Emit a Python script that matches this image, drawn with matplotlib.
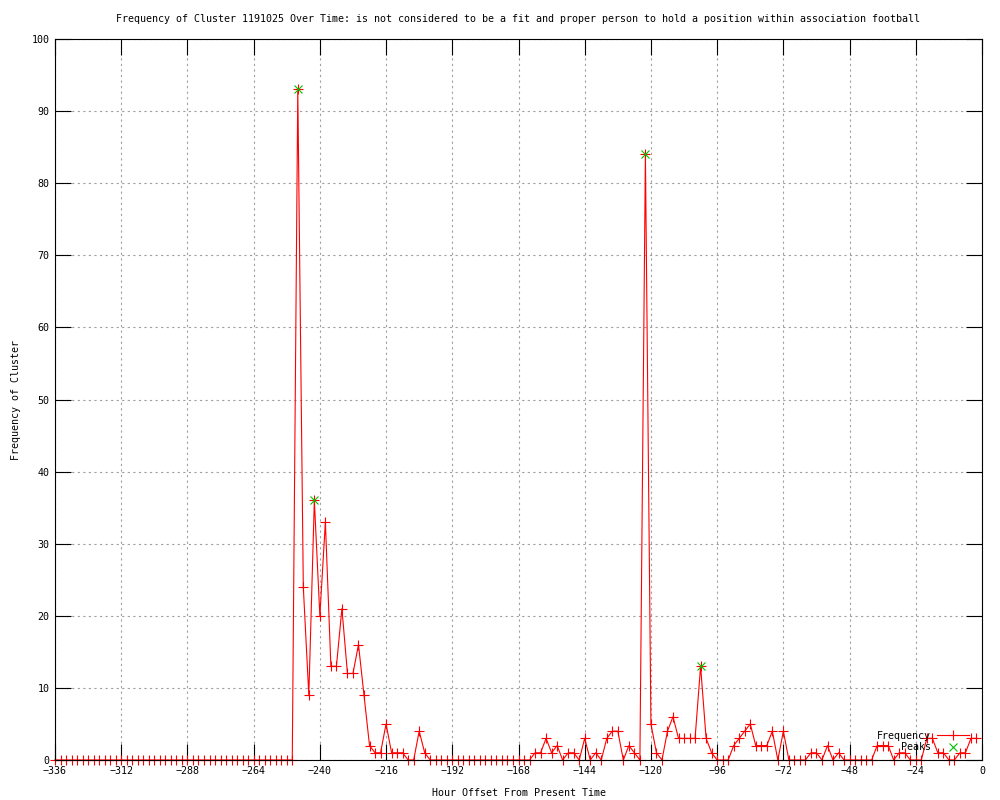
#!/usr/bin/env python3
"""
Frequency of a cluster over time, drawn in the old gnuplot png look.
"""

import numpy as np
import matplotlib
matplotlib.use("Agg")
import matplotlib.pyplot as plt

# Hours before now, one sample every 2 hours
hours = np.arange(-336, 0, 2)

# Cluster frequency per sample (-336 ... -2)
frequency = [
    0, 0, 0, 0, 0, 0, 0, 0, 0, 0, 0, 0,      # -336 .. -314
    0, 0, 0, 0, 0, 0, 0, 0, 0, 0, 0, 0,      # -312 .. -290
    0, 0, 0, 0, 0, 0, 0, 0, 0, 0, 0, 0,      # -288 .. -266
    0, 0, 0, 0, 0, 0, 0, 0,                  # -264 .. -250
    93, 24, 9, 36, 20, 33, 13, 13, 21, 12,   # -248 .. -230
    12, 16, 9, 2, 1, 1, 5, 1, 1, 1,          # -228 .. -210
    0, 0, 4, 1,                              # -208 .. -202
    0, 0, 0, 0, 0, 0, 0, 0, 0, 0,            # -200 .. -182
    0, 0, 0, 0, 0, 0, 0, 0, 0,               # -180 .. -164
    1, 1, 3, 1, 2, 0, 1, 1, 0, 3,            # -162 .. -144
    0, 1, 0, 3, 4, 4, 0, 2, 1, 0,            # -142 .. -124
    84, 5, 1, 0, 4, 6, 3, 3, 3, 3,           # -122 .. -104
    13, 3, 1, 0, 0, 0, 2, 3, 4, 5,           # -102 .. -84
    2, 2, 2, 4, 0, 4, 0, 0, 0, 0,            # -82 .. -64
    1, 1, 0, 2, 0, 1, 0, 0, 0, 0,            # -62 .. -44
    0, 0, 2, 2, 2, 0, 1, 1, 0, 0,            # -42 .. -24
    0, 3, 3, 1, 1, 0, 0, 1, 1, 3,            # -22 .. -4
    3,                                       # -2
]

peak_hours = [-248, -242, -122, -102]
peak_values = [93, 36, 84, 13]

title = ("Frequency of Cluster 1191025 Over Time: is not considered to be a fit "
         "and proper person to hold a position within association football")
x_ticks = np.arange(-336, 1, 24)
y_ticks = np.arange(0, 101, 10)

plt.rcParams["font.family"] = ["DejaVu Sans Mono"]
plt.rcParams["font.size"] = 7.2

fig = plt.figure(figsize=(10, 8), dpi=100)
ax = fig.add_axes([0.055, 0.05, 0.927, 0.90125])

ax.plot(hours, frequency, color="red", linewidth=0.8, marker="+",
        markersize=7, markeredgewidth=0.8, clip_on=False, zorder=2,
        label="Frequency")
ax.plot(peak_hours, peak_values, linestyle="none", color="#00c000", marker="x",
        markersize=5.5, markeredgewidth=0.8, clip_on=False, zorder=3,
        label="Peaks")

ax.set_xlim(-336, 0)
ax.set_ylim(0, 100)
ax.set_xticks(x_ticks)
ax.set_yticks(y_ticks)
ax.tick_params(direction="in", length=11.5, width=0.8, top=True, right=True,
               labelsize=7.2, pad=4, color="black")
ax.grid(True, color="#a0a0a0", linestyle=(0, (2, 3)), linewidth=0.8)
for spine in ax.spines.values():
    spine.set_linewidth(0.8)
    spine.set_zorder(2.5)

ax.set_title(title, fontsize=7.2, pad=12.5)
ax.set_xlabel("Hour Offset From Present Time", fontsize=7.2, labelpad=9)
ax.set_ylabel("Frequency of Cluster", fontsize=7.2, labelpad=7.5)

ax.legend(loc="lower right", bbox_to_anchor=(0.99, 0.005), frameon=False,
          markerfirst=False, numpoints=1, handlelength=3.2,
          handletextpad=0.6, labelspacing=0.15, fontsize=7.2,
          borderaxespad=0.0)

plt.savefig("out.png", dpi=100)
